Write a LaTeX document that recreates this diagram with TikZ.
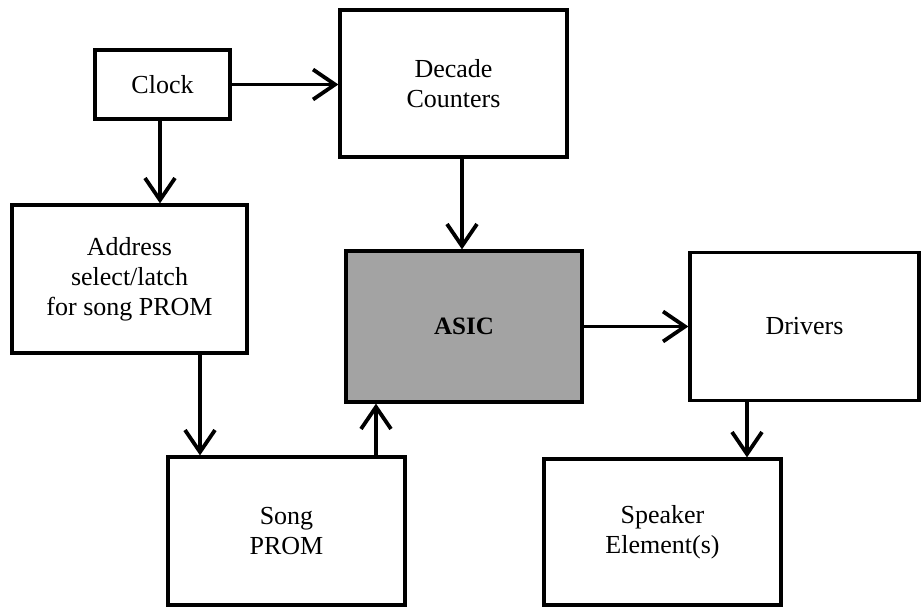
\documentclass[tikz,border=0pt]{standalone}
\usepackage{fontspec}
\setmainfont{Liberation Serif}
\usetikzlibrary{arrows.meta}
\begin{document}
\begin{tikzpicture}[x=1pt,y=-1pt,
  blk/.style={draw=black, line width=3.2pt, inner sep=0pt, align=center,
    font=\fontsize{26}{30}\selectfont},
  conn/.style={line width=3.4pt, -{Straight Barb[length=22pt,width=30pt,line width=3.8pt]}}]
\useasboundingbox (0,0) rectangle (921,609);
\node[blk, minimum width=135pt, minimum height=69pt] (clock) at (162.5,84.5) {Clock};
\node[blk, minimum width=227pt, minimum height=147pt] (decade) at (453.5,83.5) {Decade\\Counters};
\node[blk, minimum width=235pt, minimum height=148pt] (address) at (129.5,279) {Address\\select/latch\\for song PROM};
\node[blk, minimum width=236pt, minimum height=151pt, fill=black!36, font=\fontsize{25}{28}\selectfont\bfseries] (asic) at (464,326.5) {ASIC};
\node[blk, minimum width=229pt, minimum height=148pt] (drivers) at (804.5,326.5) {Drivers};
\node[blk, minimum width=237pt, minimum height=148pt] (song) at (286.5,531) {Song\\PROM};
\node[blk, minimum width=237pt, minimum height=146pt] (speaker) at (662.5,532) {Speaker\\Element(s)};
\draw[conn] (clock.east) -- (clock.east -| decade.west);
\draw[conn] ([xshift=-2.5pt]clock.south) -- ([xshift=-2.5pt]clock.south |- address.north);
\draw[conn] ([xshift=8.5pt]decade.south) -- ([xshift=8.5pt]decade.south |- asic.north);
\draw[conn] ([xshift=70.5pt]address.south) -- ([xshift=70.5pt]address.south |- song.north);
\draw[conn] ([xshift=89.5pt]song.north) -- ([xshift=89.5pt]song.north |- asic.south);
\draw[conn] (asic.east) -- (asic.east -| drivers.west);
\draw[conn] ([xshift=-57.5pt]drivers.south) -- ([xshift=-57.5pt]drivers.south |- speaker.north);
\end{tikzpicture}
\end{document}
